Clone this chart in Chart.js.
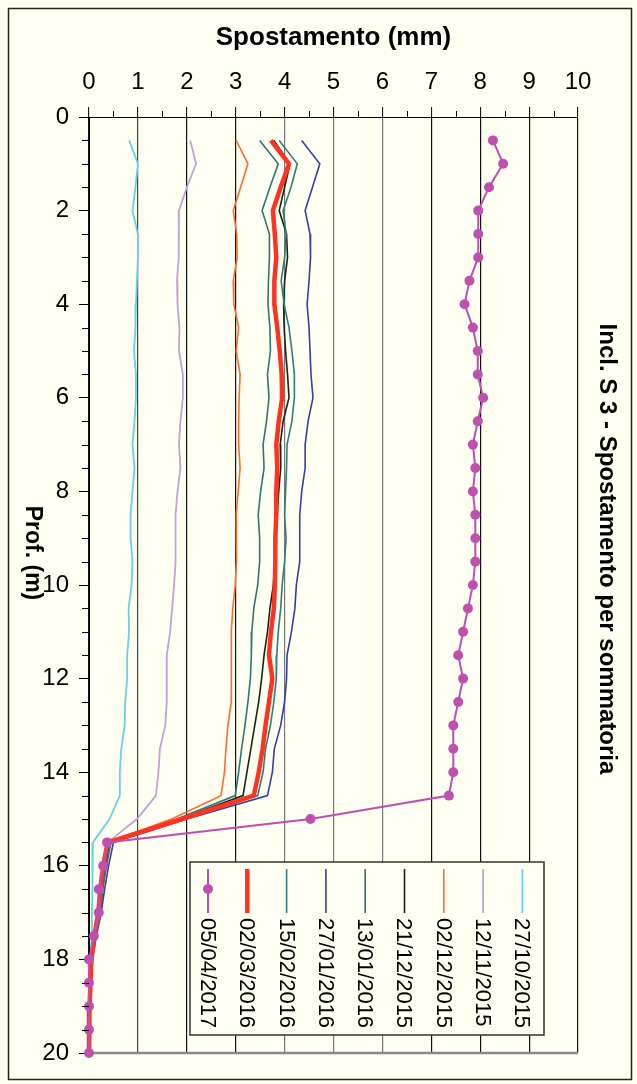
<!DOCTYPE html>
<html>
<head>
<meta charset="utf-8">
<script src="https://cdn.jsdelivr.net/npm/chart.js@4.4.1/dist/chart.umd.min.js"></script>
<style>
  html, body { margin: 0; padding: 0; background: #fffff2; }
  canvas { display: block; }
</style>
</head>
<body>
<canvas id="chart" width="637" height="1084"></canvas>
<script>
const depths = [0.5, 1, 1.5, 2, 2.5, 3, 3.5, 4, 4.5, 5, 5.5, 6, 6.5, 7, 7.5, 8, 8.5, 9, 9.5, 10,
  10.5, 11, 11.5, 12, 12.5, 13, 13.5, 14, 14.5, 15, 15.5, 16, 16.5, 17, 17.5, 18, 18.5, 19, 19.5, 20]

const d050417 = [8.26, 8.47, 8.18, 7.96, 7.96, 7.96, 7.78, 7.68, 7.85, 7.95, 7.95, 8.06, 7.95, 7.85, 7.9, 7.85, 7.9, 7.9, 7.9, 7.85,
  7.75, 7.65, 7.55, 7.65, 7.55, 7.45, 7.45, 7.45, 7.36, 4.53, 0.37, 0.29, 0.2, 0.2, 0.1, 0, 0, 0, 0, 0]
const d020316 = [3.72, 4.09, 3.92, 3.76, 3.8, 3.83, 3.79, 3.79, 3.85, 3.9, 3.94, 3.95, 3.88, 3.83, 3.85, 3.83, 3.83, 3.81, 3.81, 3.8,
  3.78, 3.72, 3.68, 3.75, 3.68, 3.61, 3.55, 3.47, 3.37, 1.9, 0.38, 0.29, 0.23, 0.19, 0.11, 0.05, 0.03, 0.01, 0, 0]
const d150216 = [3.89, 4.26, 4.13, 3.97, 4.03, 4.0, 3.93, 3.99, 4.09, 4.15, 4.2, 4.2, 4.15, 4.05, 4.04, 4.02, 4.0, 4.03, 4.0, 3.95,
  3.92, 3.87, 3.84, 3.83, 3.78, 3.71, 3.61, 3.56, 3.45, 1.95, 0.45, 0.36, 0.28, 0.23, 0.14, 0.06, 0.03, 0.01, 0, 0]
const d270116 = [4.35, 4.72, 4.57, 4.42, 4.52, 4.53, 4.5, 4.46, 4.5, 4.52, 4.54, 4.58, 4.48, 4.42, 4.42, 4.35, 4.31, 4.31, 4.31, 4.24,
  4.21, 4.14, 4.05, 4.04, 4.0, 3.92, 3.79, 3.75, 3.65, 2.0, 0.5, 0.4, 0.32, 0.25, 0.15, 0.07, 0.03, 0.01, 0, 0]
const d130116 = [3.49, 3.87, 3.7, 3.54, 3.69, 3.69, 3.67, 3.66, 3.7, 3.71, 3.65, 3.68, 3.63, 3.56, 3.58, 3.51, 3.46, 3.49, 3.49, 3.45,
  3.37, 3.33, 3.32, 3.3, 3.25, 3.19, 3.12, 3.06, 2.99, 1.8, 0.4, 0.31, 0.25, 0.21, 0.13, 0.06, 0.03, 0.01, 0, 0]
const d211215 = [3.78, 4.11, 4.0, 3.89, 4.04, 4.06, 4.0, 3.98, 3.99, 4.02, 4.06, 4.09, 3.97, 3.91, 3.92, 3.88, 3.85, 3.81, 3.8, 3.77,
  3.7, 3.65, 3.58, 3.53, 3.47, 3.39, 3.31, 3.23, 3.15, 1.85, 0.42, 0.34, 0.28, 0.23, 0.14, 0.06, 0.03, 0.01, 0, 0]
const d021215 = [3.01, 3.25, 3.1, 2.95, 3.02, 3.03, 2.95, 2.96, 3.06, 3.01, 3.09, 3.07, 3.06, 3.06, 3.09, 3.05, 3.01, 3.01, 3.02, 2.99,
  2.94, 2.91, 2.91, 2.91, 2.91, 2.84, 2.8, 2.77, 2.7, 1.69, 0.39, 0.3, 0.24, 0.2, 0.12, 0.05, 0.03, 0.01, 0, 0]
const d121115 = [2.07, 2.19, 2.0, 1.84, 1.84, 1.83, 1.8, 1.81, 1.85, 1.84, 1.92, 1.92, 1.87, 1.84, 1.87, 1.81, 1.77, 1.77, 1.77, 1.74,
  1.7, 1.66, 1.59, 1.59, 1.59, 1.56, 1.45, 1.42, 1.37, 0.98, 0.38, 0.3, 0.24, 0.2, 0.12, 0.05, 0.03, 0.01, 0, 0]
const d271015 = [0.82, 1.0, 0.95, 0.89, 1.0, 1.0, 0.98, 0.96, 0.95, 0.92, 0.96, 0.96, 0.93, 0.89, 0.93, 0.89, 0.85, 0.85, 0.89, 0.87,
  0.81, 0.82, 0.78, 0.78, 0.74, 0.73, 0.66, 0.63, 0.63, 0.42, 0.08, 0.07, 0.07, 0.06, 0.06, 0.03, 0.02, 0.01, 0, 0]

const xTicks = [0, 1, 2, 3, 4, 5, 6, 7, 8, 9, 10]
const yTicks = [0, 2, 4, 6, 8, 10, 12, 14, 16, 18, 20]

// legend order, first one is drawn on top
const series = [
  { label: '05/04/2017', values: d050417, color: '#c050ae', width: 2, marker: true },
  { label: '02/03/2016', values: d020316, color: '#ff3322', width: 4.5 },
  { label: '15/02/2016', values: d150216, color: '#2c7f79', width: 1.6 },
  { label: '27/01/2016', values: d270116, color: '#3140a6', width: 1.6 },
  { label: '13/01/2016', values: d130116, color: '#2a7771', width: 1.6 },
  { label: '21/12/2015', values: d211215, color: '#172417', width: 1.6 },
  { label: '02/12/2015', values: d021215, color: '#ff6a30', width: 1.6 },
  { label: '12/11/2015', values: d121115, color: '#c4a0d4', width: 1.8 },
  { label: '27/10/2015', values: d271015, color: '#6ccfe4', width: 1.8 }
]

const FONT = "'Liberation Sans', Arial, sans-serif"
const BG = '#fffff2'

const gridColor = v => {
  if (v === 4 || v === 5 || v === 6) return '#777'
  if (v === 1) return '#444'
  return '#111'
}

const decorations = {
  id: 'decorations',
  beforeDraw(chart) {
    const { ctx, width, height } = chart
    ctx.save()
    ctx.fillStyle = BG
    ctx.fillRect(0, 0, width, height)
    ctx.restore()
  },
  beforeDatasetsDraw(chart) {
    // grey bottom edge of the plot, under the markers
    const { ctx, chartArea } = chart
    ctx.save()
    ctx.strokeStyle = '#8a8a8a'
    ctx.lineWidth = 2.5
    ctx.beginPath()
    ctx.moveTo(chartArea.left, chartArea.bottom)
    ctx.lineTo(chartArea.right, chartArea.bottom)
    ctx.stroke()
    ctx.restore()
  },
  afterDraw(chart) {
    const { ctx, chartArea, scales } = chart
    const { left, top } = chartArea
    ctx.save()

    // minor ticks
    ctx.strokeStyle = '#000'
    ctx.lineWidth = 1
    for (let v = 0.5; v < 10; v += 1) {
      const px = Math.round(scales.x.getPixelForValue(v)) + 0.5
      ctx.beginPath()
      ctx.moveTo(px, top - 6)
      ctx.lineTo(px, top)
      ctx.stroke()
    }
    for (let v = 0.5; v < 20; v += 0.5) {
      if (v % 2 === 0) continue
      const py = Math.round(scales.y.getPixelForValue(v)) + 0.5
      ctx.beginPath()
      ctx.moveTo(left - 7, py)
      ctx.lineTo(left, py)
      ctx.stroke()
    }

    // outer frame
    ctx.strokeStyle = '#222'
    ctx.lineWidth = 1.5
    ctx.strokeRect(8.5, 8.5, 623, 1071)

    // y title and chart title, both rotated
    ctx.fillStyle = '#000'
    ctx.textAlign = 'center'
    ctx.textBaseline = 'middle'
    ctx.font = `bold 23px ${FONT}`
    ctx.save()
    ctx.translate(32, 553)
    ctx.rotate(Math.PI / 2)
    ctx.fillText('Prof. (m)', 0, 0)
    ctx.restore()

    ctx.font = `bold 24px ${FONT}`
    ctx.save()
    ctx.translate(607, 549)
    ctx.rotate(Math.PI / 2)
    ctx.fillText('Incl. S 3 - Spostamento per sommatoria', 0, 0)
    ctx.restore()

    // legend
    const box = { x: 190, y: 862, w: 354, h: 173 }
    ctx.fillStyle = BG
    ctx.fillRect(box.x, box.y, box.w, box.h)
    ctx.strokeStyle = '#333'
    ctx.lineWidth = 1.5
    ctx.strokeRect(box.x, box.y, box.w, box.h)
    ctx.font = `22px ${FONT}`
    ctx.textAlign = 'left'
    series.forEach((s, i) => {
      const cx = 208 + i * 39.3
      ctx.strokeStyle = s.color
      ctx.lineWidth = s.width
      ctx.beginPath()
      ctx.moveTo(cx, 869)
      ctx.lineTo(cx, 913)
      ctx.stroke()
      if (s.marker) {
        ctx.fillStyle = s.color
        ctx.beginPath()
        ctx.arc(cx, 889, 5, 0, Math.PI * 2)
        ctx.fill()
      }
      ctx.fillStyle = '#000'
      ctx.save()
      ctx.translate(cx, 918)
      ctx.rotate(Math.PI / 2)
      ctx.fillText(s.label, 0, 1)
      ctx.restore()
    })
    ctx.restore()
  }
}

const ctx = document.getElementById('chart').getContext('2d')

new Chart(ctx, {
  type: 'line',
  data: {
    datasets: series.map(s => ({
      label: s.label,
      data: s.values.map((v, i) => ({ x: v, y: depths[i] })),
      borderColor: s.color,
      backgroundColor: s.color,
      borderWidth: s.width,
      pointRadius: s.marker ? 5 : 0,
      pointBorderWidth: 0,
      tension: 0,
      fill: false,
      clip: false
    }))
  },
  options: {
    responsive: false,
    animation: false,
    layout: { padding: { left: 0, top: 0, right: 59, bottom: 31 } },
    plugins: {
      legend: { display: false },
      tooltip: { enabled: false }
    },
    scales: {
      x: {
        type: 'linear',
        position: 'top',
        min: 0,
        max: 10,
        afterBuildTicks: axis => { axis.ticks = xTicks.map(v => ({ value: v })) },
        ticks: {
          color: '#000',
          font: { family: FONT, size: 24 },
          padding: 10,
          maxRotation: 0,
          autoSkip: false
        },
        grid: {
          color: c => gridColor(c.tick && c.tick.value),
          lineWidth: 1.2,
          tickLength: 10,
          tickColor: '#000',
          tickWidth: 1
        },
        border: { color: '#000', width: 1 },
        title: {
          display: true,
          text: 'Spostamento (mm)',
          color: '#000',
          font: { family: FONT, size: 26, weight: 'bold' },
          padding: { top: 22, bottom: 0 }
        },
        afterFit: axis => { axis.height = 117 }
      },
      y: {
        type: 'linear',
        reverse: true,
        min: 0,
        max: 20,
        afterBuildTicks: axis => { axis.ticks = yTicks.map(v => ({ value: v })) },
        ticks: {
          color: '#000',
          font: { family: FONT, size: 24 },
          padding: 10,
          autoSkip: false
        },
        grid: {
          drawOnChartArea: false,
          tickLength: 10,
          tickColor: '#000',
          color: '#000'
        },
        border: { color: '#000', width: 1 },
        afterFit: axis => { axis.width = 89 }
      }
    }
  },
  plugins: [decorations]
})
</script>
</body>
</html>
